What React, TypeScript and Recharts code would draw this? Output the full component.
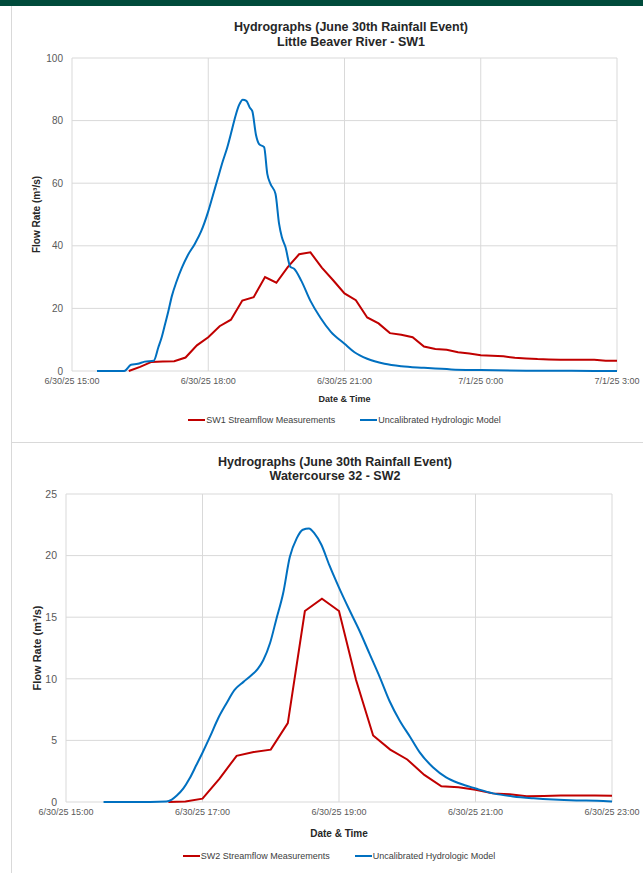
import { CartesianGrid, Legend, Line, LineChart, XAxis, YAxis } from "recharts";

const FONT = "'Liberation Sans', Arial, sans-serif";
const RED = "#c00000";
const BLUE = "#0070c0";
const GRID = "#d9d9d9";

// hours after 6/30/25 15:00
const sw1TickHours = [0, 3, 6, 9, 12];
const sw1TickLabels = ["6/30/25 15:00", "6/30/25 18:00", "6/30/25 21:00", "7/1/25 0:00", "7/1/25 3:00"];
const sw1YTicks = [0, 20, 40, 60, 80, 100];

const sw1MeasHours = [
  1.25, 1.5, 1.75, 2.0, 2.25, 2.5, 2.75, 3.0, 3.25, 3.5, 3.75, 4.0, 4.25, 4.5, 4.75,
  5.0, 5.25, 5.5, 5.75, 6.0, 6.25, 6.5, 6.75, 7.0, 7.25, 7.5, 7.75, 8.0, 8.25, 8.5,
  8.75, 9.0, 9.25, 9.5, 9.75, 10.0, 10.25, 10.5, 10.75, 11.0, 11.25, 11.5, 11.75, 12.0,
];
const sw1Meas = [
  0, 1.3, 2.9, 3.0, 3.1, 4.3, 8.2, 10.8, 14.3, 16.4, 22.5, 23.6, 30, 28.2, 33.2,
  37.3, 37.9, 33, 29, 24.8, 22.6, 17.1, 15.2, 12.1, 11.6, 10.8, 7.8, 7.0, 6.8, 6.0,
  5.6, 5.0, 4.9, 4.7, 4.2, 4.0, 3.8, 3.7, 3.6, 3.6, 3.6, 3.6, 3.3, 3.3,
];

const sw1ModelHours = [
  0.55, 1.15, 1.3, 1.45, 1.6, 1.8, 1.9, 1.98, 2.05, 2.12, 2.2, 2.3, 2.42, 2.55, 2.7,
  2.84, 3.0, 3.1, 3.2, 3.32, 3.42, 3.52, 3.6, 3.68, 3.76, 3.84, 3.92, 3.97, 4.05, 4.12,
  4.23, 4.3, 4.37, 4.48, 4.56, 4.62, 4.7, 4.81, 4.89, 5.05, 5.25, 5.47, 5.7, 6.0, 6.22,
  6.5, 6.88, 7.25, 7.75, 8.35, 9.0, 10.0, 11.0, 12.0,
];
const sw1Model = [
  0, 0, 2.0, 2.3, 3.0, 3.3, 7.5, 11, 15, 19, 24, 28.5, 33, 37, 40.5,
  44.5, 51, 56, 61, 67, 71.5, 77, 81.5, 85, 86.7, 86.3, 84, 83, 75.5, 72.5,
  71.5, 63, 59.8, 56.6, 47, 42.8, 39.6, 33.2, 32.7, 28.8, 22.4, 17, 12.5, 8.7, 6,
  3.9, 2.3, 1.5, 1.0, 0.5, 0.3, 0.1, 0.05, 0,
];

const sw2TickHours = [0, 2, 4, 6, 8];
const sw2TickLabels = ["6/30/25 15:00", "6/30/25 17:00", "6/30/25 19:00", "6/30/25 21:00", "6/30/25 23:00"];
const sw2YTicks = [0, 5, 10, 15, 20, 25];

const sw2MeasHours = [
  1.5, 1.75, 2.0, 2.25, 2.5, 2.75, 3.0, 3.25, 3.5, 3.75, 4.0, 4.25, 4.5, 4.75,
  5.0, 5.25, 5.5, 5.75, 6.0, 6.25, 6.5, 6.75, 7.0, 7.25, 7.5, 7.75, 8.0,
];
const sw2Meas = [
  0, 0.05, 0.27, 1.9, 3.75, 4.05, 4.25, 6.4, 15.5, 16.5, 15.5, 9.9, 5.4, 4.25,
  3.45, 2.2, 1.27, 1.2, 1.0, 0.7, 0.62, 0.46, 0.48, 0.52, 0.53, 0.53, 0.5,
];

const sw2ModelHours = [
  0.55, 1.0, 1.47, 1.55, 1.62, 1.72, 1.81, 1.91, 2.0, 2.11, 2.23, 2.35, 2.47, 2.6, 2.72,
  2.81, 2.89, 2.99, 3.08, 3.18, 3.28, 3.38, 3.47, 3.56, 3.64, 3.74, 3.86, 4.0, 4.16, 4.3,
  4.45, 4.6, 4.74, 4.89, 5.04, 5.18, 5.38, 5.57, 5.77, 6.0, 6.26, 6.55, 6.85, 7.14, 7.48,
  7.78, 8.0,
];
const sw2Model = [
  0, 0, 0.05, 0.2, 0.5, 1.1, 1.9, 3.0, 4.0, 5.3, 6.8, 8.0, 9.1, 9.75, 10.3,
  10.8, 11.5, 12.9, 14.8, 16.9, 19.9, 21.4, 22.1, 22.2, 21.8, 20.9, 19.2, 17.4, 15.5, 13.9,
  12.0, 10.1, 8.2, 6.6, 5.3, 4.05, 2.8, 2.0, 1.5, 1.1, 0.7, 0.45, 0.3, 0.2, 0.13,
  0.1, 0.05,
];

type Row = { h: number; meas?: number; model?: number };

function buildRows(measHours: number[], meas: number[], modelHours: number[], model: number[]) {
  const rows = new Map<number, Row>();
  measHours.forEach((h, i) => {
    const r = rows.get(h) ?? { h };
    r.meas = meas[i];
    rows.set(h, r);
  });
  modelHours.forEach((h, i) => {
    const r = rows.get(h) ?? { h };
    r.model = model[i];
    rows.set(h, r);
  });
  return [...rows.values()].sort((a, b) => a.h - b.h);
}

const LegendContent = ({ payload }: any) => (
  <div style={{ display: "flex", justifyContent: "center", alignItems: "center", height: 16, fontFamily: FONT, fontSize: 9, color: "#404040" }}>
    {(payload || []).map((p: any, i: number) => (
      <div key={i} style={{ display: "flex", alignItems: "center", marginLeft: i ? 25 : 0 }}>
        <span style={{ display: "inline-block", width: 17, height: 2.5, background: p.color, marginRight: 1 }} />
        <span>{p.value}</span>
      </div>
    ))}
  </div>
);

interface HydrographProps {
  rows: Row[];
  measName: string;
  tickHours: number[];
  tickLabels: string[];
  yTicks: number[];
  height: number;
  margin: { top: number; right: number; bottom: number; left: number };
  xAxisHeight: number;
  yLabelOffset: number;
  legendBottom: number;
  yTickSize: number;
  yTitleSize: number;
  xTitleSize: number;
}

function Hydrograph(p: HydrographProps) {
  const plotLeft = p.margin.left + 40;
  const plotWidth = 643 - plotLeft - p.margin.right;
  return (
    <LineChart width={643} height={p.height} data={p.rows} margin={p.margin}>
      <CartesianGrid stroke={GRID} strokeWidth={1} />
      <XAxis
        dataKey="h"
        type="number"
        domain={[p.tickHours[0], p.tickHours[p.tickHours.length - 1]]}
        ticks={p.tickHours}
        interval={0}
        tickFormatter={(v: number) => p.tickLabels[p.tickHours.indexOf(v)] ?? ""}
        axisLine={false}
        tickLine={false}
        tickSize={4}
        tickMargin={3}
        height={p.xAxisHeight}
        tick={{ fill: "#595959", fontSize: 9, fontFamily: FONT }}
        label={{ value: "Date & Time", position: "insideBottom", offset: 0, style: { fill: "#262626", fontSize: p.xTitleSize, fontWeight: 700, fontFamily: FONT } }}
      />
      <YAxis
        type="number"
        domain={[p.yTicks[0], p.yTicks[p.yTicks.length - 1]]}
        ticks={p.yTicks}
        interval={0}
        width={40}
        axisLine={false}
        tickLine={false}
        tickSize={5}
        tickMargin={4}
        tick={{ fill: "#595959", fontSize: p.yTickSize, fontFamily: FONT }}
        label={{ value: "Flow Rate (m³/s)", angle: -90, position: "insideLeft", offset: p.yLabelOffset, style: { textAnchor: "middle", fill: "#262626", fontSize: p.yTitleSize, fontWeight: 700, fontFamily: FONT } }}
      />
      <Legend
        verticalAlign="bottom"
        height={16}
        content={<LegendContent />}
        wrapperStyle={{ left: plotLeft, width: plotWidth, bottom: p.legendBottom }}
      />
      <Line dataKey="meas" name={p.measName} stroke={RED} strokeWidth={2} dot={false} connectNulls isAnimationActive={false} />
      <Line type="monotone" dataKey="model" name="Uncalibrated Hydrologic Model" stroke={BLUE} strokeWidth={2} dot={false} connectNulls isAnimationActive={false} />
    </LineChart>
  );
}

const titleStyle = (top: number, center: number, lh: number): React.CSSProperties => ({
  position: "absolute",
  top,
  left: center,
  transform: "translateX(-50%)",
  whiteSpace: "nowrap",
  textAlign: "center",
  fontFamily: FONT,
  fontWeight: 700,
  fontSize: 12.5,
  lineHeight: `${lh}px`,
  color: "#262626",
});

export default function App() {
  const sw1Rows = buildRows(sw1MeasHours, sw1Meas, sw1ModelHours, sw1Model);
  const sw2Rows = buildRows(sw2MeasHours, sw2Meas, sw2ModelHours, sw2Model);

  return (
    <div style={{ position: "relative", width: 643, height: 873, background: "#fff", overflow: "hidden", fontFamily: FONT }}>
      <style>{`body { margin: 0; }`}</style>
      <div style={{ position: "absolute", top: 0, left: 0, width: 643, height: 6, background: "#004b3b" }} />
      <div style={{ position: "absolute", top: 6, left: 11, width: 1, height: 867, background: GRID }} />
      <div style={{ position: "absolute", top: 442, left: 11, right: 0, height: 1, background: GRID }} />

      <div style={{ position: "absolute", top: 0, left: 0 }}>
        <Hydrograph
          rows={sw1Rows}
          measName="SW1 Streamflow Measurements"
          tickHours={sw1TickHours}
          tickLabels={sw1TickLabels}
          yTicks={sw1YTicks}
          height={442}
          margin={{ top: 58, right: 26, bottom: 24, left: 32 }}
          xAxisHeight={31}
          yLabelOffset={4}
          legendBottom={14}
          yTickSize={10}
          yTitleSize={10}
          xTitleSize={9}
        />
      </div>
      <div style={titleStyle(20, 351, 15)}>
        Hydrographs (June 30th Rainfall Event)
        <br />
        Little Beaver River - SW1
      </div>

      <div style={{ position: "absolute", top: 442, left: 0 }}>
        <Hydrograph
          rows={sw2Rows}
          measName="SW2 Streamflow Measurements"
          tickHours={sw2TickHours}
          tickLabels={sw2TickLabels}
          yTicks={sw2YTicks}
          height={431}
          margin={{ top: 52, right: 31, bottom: 20, left: 26 }}
          xAxisHeight={35}
          yLabelOffset={11}
          legendBottom={9}
          yTickSize={10.5}
          yTitleSize={11}
          xTitleSize={10}
        />
      </div>
      <div style={titleStyle(456, 335, 13.5)}>
        Hydrographs (June 30th Rainfall Event)
        <br />
        Watercourse 32 - SW2
      </div>
    </div>
  );
}
